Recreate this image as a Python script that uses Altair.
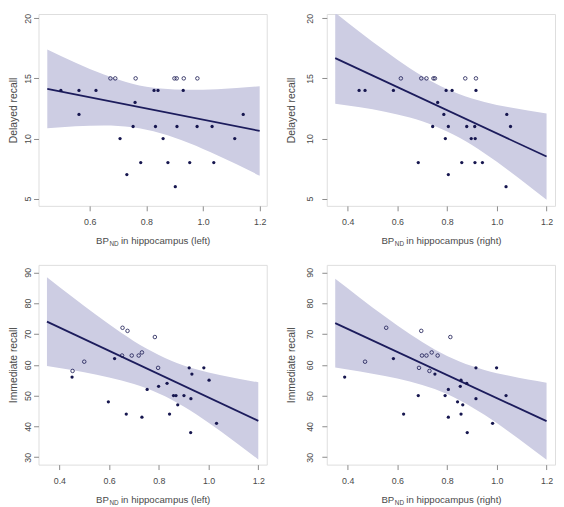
import altair as alt
import pandas as pd

FONT = "Liberation Sans"
DOT = "#16164f"
LINE = "#1c1c5c"
BAND = "#cdcde3"
FRAME = "#8a8a8a"
TXT = "#4a4a4a"

# ---- Panel A: delayed recall vs BPND hippocampus (left)
a_fx = [0.498, 0.562, 0.622, 0.562, 0.760, 0.753, 0.707, 0.780, 0.731, 0.827, 0.841, 0.930,
        1.142, 0.832, 0.908, 0.979, 1.032, 0.859, 1.112, 0.876, 0.953, 1.038, 0.902]
a_fy = [14, 14, 14, 12, 13, 11, 10, 8, 7, 14, 14, 14, 12, 11, 11, 11, 11, 10, 10, 8, 8, 8, 6]
a_ox = [0.673, 0.690, 0.762, 0.899, 0.907, 0.932, 0.980]
a_oy = [15, 15, 15, 15, 15, 15, 15]
a_lx = [0.45, 1.2]
a_ly = [14.13, 10.63]
a_bx = [0.45, 0.55, 0.65, 0.75, 0.85, 0.95, 1.05, 1.2]
a_bhi = [17.40, 16.30, 15.32, 14.55, 14.15, 14.05, 14.10, 14.35]
a_blo = [10.85, 11.03, 11.09, 10.93, 10.44, 9.63, 8.61, 6.91]

# ---- Panel B: delayed recall vs BPND hippocampus (right)
b_fx = [0.446, 0.470, 0.584, 0.762, 0.742, 0.684, 0.796, 0.820, 0.916, 0.787, 1.040, 0.805,
        0.879, 0.911, 1.055, 0.793, 0.897, 0.913, 0.859, 0.912, 0.942, 0.805, 1.037]
b_fy = [14, 14, 14, 13, 11, 8, 14, 14, 14, 12, 12, 11, 11, 11, 11, 10, 10, 10, 8, 8, 8, 7, 6]
b_ox = [0.614, 0.696, 0.717, 0.745, 0.751, 0.873, 0.916]
b_oy = [15, 15, 15, 15, 15, 15, 15]
b_lx = [0.35, 1.2]
b_ly = [16.68, 8.50]
b_bx = [0.35, 0.45, 0.55, 0.65, 0.75, 0.85, 0.95, 1.05, 1.2]
b_bhi = [20.46, 18.84, 17.29, 15.84, 14.61, 13.68, 13.04, 12.59, 12.08]
b_blo = [12.90, 12.60, 12.23, 11.74, 11.05, 10.06, 8.78, 7.31, 4.92]

# ---- Panel C: immediate recall vs BPND hippocampus (left)
c_fx = [0.451, 0.622, 0.753, 0.597, 0.669, 0.732, 0.799, 0.833, 0.922, 0.981, 0.933, 1.002,
        0.859, 0.869, 0.901, 0.929, 0.876, 0.843, 1.032, 0.928]
c_fy = [56, 62, 52, 48, 44, 43, 53, 54, 59, 59, 57, 55, 50, 50, 50, 49, 47, 44, 41, 38]
c_ox = [0.654, 0.674, 0.453, 0.500, 0.652, 0.691, 0.719, 0.732, 0.784, 0.797]
c_oy = [72, 71, 58, 61, 63, 63, 63, 64, 69, 59]
c_lx = [0.35, 1.2]
c_ly = [74.0, 41.8]
c_bx = [0.35, 0.45, 0.55, 0.65, 0.75, 0.85, 0.95, 1.05, 1.2]
c_bhi = [88.4, 82.14, 76.06, 70.33, 65.28, 61.33, 58.55, 56.56, 54.3]
c_blo = [59.6, 58.28, 56.78, 54.93, 52.40, 48.77, 43.97, 38.38, 29.3]

# ---- Panel D: immediate recall vs BPND hippocampus (right)
d_fx = [0.584, 0.388, 0.751, 0.684, 0.625, 0.916, 0.999, 0.856, 0.879, 0.853, 0.805, 0.792,
        1.037, 0.842, 0.863, 0.916, 0.805, 0.856, 0.983, 0.881]
d_fy = [62, 56, 57, 50, 44, 59, 59, 55, 54, 53, 52, 50, 50, 48, 47, 49, 43, 44, 41, 38]
d_ox = [0.555, 0.696, 0.470, 0.699, 0.717, 0.738, 0.762, 0.687, 0.729, 0.813]
d_oy = [72, 71, 61, 63, 63, 64, 63, 59, 58, 69]
d_lx = [0.35, 1.2]
d_ly = [73.5, 41.7]
d_bx = [0.35, 0.45, 0.55, 0.65, 0.75, 0.85, 0.95, 1.05, 1.2]
d_bhi = [87.9, 81.69, 75.66, 69.98, 64.98, 61.08, 58.34, 56.40, 54.2]
d_blo = [59.1, 57.83, 56.38, 54.58, 52.10, 48.52, 43.76, 38.22, 29.2]

W = 232


def panel(fx, fy, ox, oy, lx, ly, bx, bhi, blo, xdom, ydom, xticks, yticks,
          ytitle, side, H, lab_pad, title_x):
    xs = alt.Scale(domain=xdom, nice=False, zero=False)
    ys = alt.Scale(domain=ydom, nice=False, zero=False)
    xax = alt.Axis(values=xticks, format=".1f", grid=False, domain=False,
                   tickSize=5, tickColor=FRAME, labelPadding=7, labelFontSize=9,
                   labelColor=TXT, labelFont=FONT, labelFlush=False, labelOverlap=False)
    yax = alt.Axis(values=yticks, grid=False, domain=False, tickSize=5,
                   tickColor=FRAME, labelAngle=270, labelAlign="center",
                   labelBaseline="middle", labelPadding=lab_pad, labelFontSize=9,
                   labelColor=TXT, labelFont=FONT, labelFlush=False, labelOverlap=False,
                   labelSeparation=0,
                   titleFont=FONT, titleFontSize=10.5, titleFontWeight="normal",
                   titleColor=TXT, titleAngle=270, titleAlign="center",
                   titleBaseline="middle", titleX=title_x, titleY=H / 2)

    xenc = alt.X("x:Q", scale=xs, axis=xax, title=None)
    band = alt.Chart(pd.DataFrame({"x": bx, "lo": blo, "hi": bhi})).mark_area(
        color=BAND, opacity=1, interpolate="monotone", clip=True).encode(
        x=xenc,
        y=alt.Y("lo:Q", scale=ys, axis=yax, title=ytitle),
        y2="hi:Q")
    yenc = alt.Y("y:Q", scale=ys, axis=yax, title=ytitle)
    line = alt.Chart(pd.DataFrame({"x": lx, "y": ly})).mark_line(
        color=LINE, strokeWidth=1.8).encode(x=xenc, y=yenc)
    filled = alt.Chart(pd.DataFrame({"x": fx, "y": fy})).mark_point(
        shape="circle", filled=True, size=11, color=DOT, opacity=1).encode(
        x=xenc, y=yenc)
    hollow = alt.Chart(pd.DataFrame({"x": ox, "y": oy})).mark_point(
        shape="circle", filled=False, size=13, color=DOT, strokeWidth=0.8,
        opacity=1).encode(x=xenc, y=yenc)

    rest = "in hippocampus (" + side + ")"
    rest_w = 92.7 if side == "left" else 98.8
    total = 13.3 + 12.3 + rest_w * 0.97
    p = W / 2 - total / 2 + 13.3
    ty = H + 38.5
    t1 = alt.Chart(pd.DataFrame({"t": ["BP"]})).mark_text(
        align="right", baseline="alphabetic", font=FONT, fontSize=9.8, color=TXT).encode(
        text="t:N", x=alt.value(p), y=alt.value(ty))
    t2 = alt.Chart(pd.DataFrame({"t": ["ND"]})).mark_text(
        align="left", baseline="alphabetic", font=FONT, fontSize=6.5, color=TXT).encode(
        text="t:N", x=alt.value(p + 0.6), y=alt.value(ty + 2.5))
    t3 = alt.Chart(pd.DataFrame({"t": [rest]})).mark_text(
        align="left", baseline="alphabetic", font=FONT, fontSize=9.8, color=TXT).encode(
        text="t:N", x=alt.value(p + 12.3), y=alt.value(ty))

    return alt.layer(band, line, filled, hollow, t1, t2, t3).properties(width=W, height=H)


H1, H2 = 195, 203
A = panel(a_fx, a_fy, a_ox, a_oy, a_lx, a_ly, a_bx, a_bhi, a_blo,
          [0.419, 1.225], [4.4, 20.35], [0.6, 0.8, 1.0, 1.2], [5, 10, 15, 20],
          "Delayed recall", "left", H1, 6.6, -25)
B = panel(b_fx, b_fy, b_ox, b_oy, b_lx, b_ly, b_bx, b_bhi, b_blo,
          [0.316, 1.234], [4.4, 20.35], [0.4, 0.6, 0.8, 1.0, 1.2], [5, 10, 15, 20],
          "Delayed recall", "right", H1, 12, -36)
C = panel(c_fx, c_fy, c_ox, c_oy, c_lx, c_ly, c_bx, c_bhi, c_blo,
          [0.316, 1.234], [27.6, 92.4], [0.4, 0.6, 0.8, 1.0, 1.2], [30, 40, 50, 60, 70, 80, 90],
          "Immediate recall", "left", H2, 6.6, -25)
D = panel(d_fx, d_fy, d_ox, d_oy, d_lx, d_ly, d_bx, d_bhi, d_blo,
          [0.316, 1.234], [27.6, 92.4], [0.4, 0.6, 0.8, 1.0, 1.2], [30, 40, 50, 60, 70, 80, 90],
          "Immediate recall", "right", H2, 12, -36)

chart = alt.concat(A, B, C, D, columns=2, spacing={"row": 60, "column": 61},
                   bounds="flush").properties(
    padding=0
).configure_view(stroke=FRAME, strokeWidth=1).configure_axis(
    labelOverlap=False, labelSeparation=0
).configure(background="white")

chart.save("out.html", embed_options={"renderer": "svg", "actions": False})
